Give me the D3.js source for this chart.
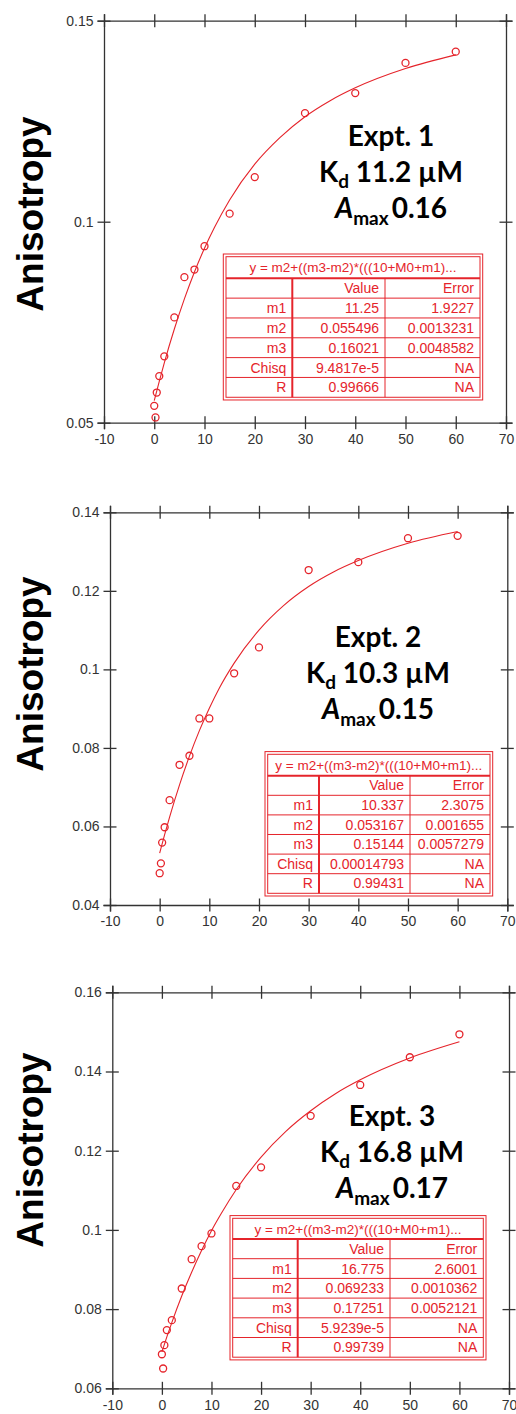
<!DOCTYPE html>
<html>
<head>
<meta charset="utf-8">
<script src="https://cdn.jsdelivr.net/npm/d3@7"></script>
<style>
  html, body { margin: 0; padding: 0; background: #fff; }
  svg { display: block; }
</style>
</head>
<body>
<script>
// ---------------- DATA ----------------
const xTicks = [-10, 0, 10, 20, 30, 40, 50, 60, 70];
const conc = [0, 0.25, 0.5, 1, 2, 4, 6, 8, 10, 15, 20, 30, 40, 50, 60];

const aniso1 = [0.0542, 0.0513, 0.0575, 0.0616, 0.0665, 0.0762, 0.0862, 0.0881, 0.0939, 0.1020, 0.1111, 0.1270, 0.1320, 0.1395, 0.1423];
const aniso2 = [0.0481, 0.0506, 0.0559, 0.0598, 0.0667, 0.0757, 0.0780, 0.0875, 0.0875, 0.0990, 0.1056, 0.1253, 0.1273, 0.1334, 0.1340];
const aniso3 = [0.0686, 0.0650, 0.0709, 0.0747, 0.0772, 0.0852, 0.0926, 0.0959, 0.0991, 0.1111, 0.1158, 0.1288, 0.1366, 0.1436, 0.1494];

const fitConc = [0, 1, 2, 4, 6, 8, 10, 12, 15, 20, 25, 30, 35, 40, 50, 60];
const fit1 = [0.0555, 0.0603, 0.0649, 0.0733, 0.0808, 0.0875, 0.0934, 0.0986, 0.1054, 0.1143, 0.1209, 0.1261, 0.1301, 0.1333, 0.1381, 0.1415];
const fit2 = [0.0532, 0.0579, 0.0624, 0.0706, 0.0779, 0.0844, 0.0901, 0.0952, 0.1016, 0.1100, 0.1163, 0.1211, 0.1248, 0.1277, 0.1321, 0.1351];
const fit3 = [0.0692, 0.0730, 0.0766, 0.0833, 0.0893, 0.0948, 0.0998, 0.1042, 0.1102, 0.1184, 0.1249, 0.1301, 0.1344, 0.1379, 0.1434, 0.1475];

const yDomain1 = [0.05, 0.15], yTicks1 = [0.05, 0.1, 0.15];
const yDomain2 = [0.04, 0.14], yTicks2 = [0.04, 0.06, 0.08, 0.1, 0.12, 0.14];
const yDomain3 = [0.06, 0.16], yTicks3 = [0.06, 0.08, 0.1, 0.12, 0.14, 0.16];

const yAxisTitle = "Anisotropy";
const exptNames = ["Expt. 1", "Expt. 2", "Expt. 3"];
const kdValues = ["11.2", "10.3", "16.8"];
const amaxValues = ["0.16", "0.15", "0.17"];

const tableTitle = "y = m2+((m3-m2)*(((10+M0+m1)...";
const tableHeader = ["", "Value", "Error"];
const paramNames = ["m1", "m2", "m3", "Chisq", "R"];
const paramValues1 = ["11.25", "0.055496", "0.16021", "9.4817e-5", "0.99666"];
const paramErrors1 = ["1.9227", "0.0013231", "0.0048582", "NA", "NA"];
const paramValues2 = ["10.337", "0.053167", "0.15144", "0.00014793", "0.99431"];
const paramErrors2 = ["2.3075", "0.001655", "0.0057279", "NA", "NA"];
const paramValues3 = ["16.775", "0.069233", "0.17251", "5.9239e-5", "0.99739"];
const paramErrors3 = ["2.6001", "0.0010362", "0.0052121", "NA", "NA"];

// ---------------- LAYOUT ----------------
const RED = "#e5242b";
const AXIS = "#333";
const panels = [
  { ys: aniso1, fit: fit1, yDomain: yDomain1, yTicks: yTicks1, vals: paramValues1, errs: paramErrors1,
    left: 104, right: 506, top: 20.7, bottom: 422.7, titleY: 214, annX: 391, annY: 146,
    tbl: { x: 226, y: 256.7, cols: [66.3, 92.7, 95], titleH: 21.6, rowH: 19.83 } },
  { ys: aniso2, fit: fit2, yDomain: yDomain2, yTicks: yTicks2, vals: paramValues2, errs: paramErrors2,
    left: 110, right: 507.3, top: 512.3, bottom: 905, titleY: 674, annX: 378, annY: 646.7,
    tbl: { x: 267.7, y: 754.3, cols: [51.3, 91, 80], titleH: 21.4, rowH: 19.6 } },
  { ys: aniso3, fit: fit3, yDomain: yDomain3, yTicks: yTicks3, vals: paramValues3, errs: paramErrors3,
    left: 112.3, right: 509, top: 992.3, bottom: 1388.3, titleY: 1150, annX: 392, annY: 1126,
    tbl: { x: 232.7, y: 1218.3, cols: [65, 92.3, 93.3], titleH: 20.7, rowH: 19.7 } }
];

const svg = d3.select("body").append("svg").attr("width", 516).attr("height", 1414);

panels.forEach((p, i) => {
  const g = svg.append("g");
  const x = d3.scaleLinear().domain([-10, 70]).range([p.left, p.right]);
  const y = d3.scaleLinear().domain(p.yDomain).range([p.bottom, p.top]);
  const fmt = d => String(+d.toFixed(2));
  const T = 6.5;

  function styleAxis(sel, orient) {
    sel.select(".domain").attr("stroke", AXIS).attr("stroke-width", 1.3);
    sel.selectAll(".tick line").attr("stroke", AXIS).attr("stroke-width", 1.3);
    if (orient === "h") sel.selectAll(".tick line").attr("y1", -T).attr("y2", T);
    else sel.selectAll(".tick line").attr("x1", -T).attr("x2", T);
    sel.selectAll(".tick text").attr("fill", "#333")
      .style("font-family", "'Liberation Sans', Arial, sans-serif").style("font-size", "14px");
  }

  const gb = g.append("g").attr("transform", `translate(0,${p.bottom})`)
    .call(d3.axisBottom(x).tickValues(xTicks).tickFormat(d => String(d)).tickSizeOuter(0).tickSize(T).tickPadding(5));
  styleAxis(gb, "h");
  const gt = g.append("g").attr("transform", `translate(0,${p.top})`)
    .call(d3.axisTop(x).tickValues(xTicks).tickFormat("").tickSizeOuter(0).tickSize(T));
  styleAxis(gt, "h");
  const gl = g.append("g").attr("transform", `translate(${p.left},0)`)
    .call(d3.axisLeft(y).tickValues(p.yTicks).tickFormat(fmt).tickSizeOuter(0).tickSize(T).tickPadding(4));
  styleAxis(gl, "v");
  const gr = g.append("g").attr("transform", `translate(${p.right},0)`)
    .call(d3.axisRight(y).tickValues(p.yTicks).tickFormat("").tickSizeOuter(0).tickSize(T));
  styleAxis(gr, "v");

  // Y axis title
  g.append("text")
    .attr("transform", `translate(43,${p.titleY}) rotate(-90)`)
    .attr("text-anchor", "middle")
    .style("font-family", "'Liberation Sans', Arial, sans-serif")
    .style("font-weight", "bold").style("font-size", "37px")
    .attr("fill", "#000").text(yAxisTitle);

  // fit curve
  const line = d3.line().x((d, k) => x(fitConc[k])).y(d => y(d)).curve(d3.curveMonotoneX);
  g.append("path").datum(p.fit).attr("d", line)
    .attr("fill", "none").attr("stroke", RED).attr("stroke-width", 1.1);

  // points
  g.selectAll("circle.pt").data(p.ys).join("circle")
    .attr("class", "pt")
    .attr("cx", (d, k) => x(conc[k])).attr("cy", d => y(d)).attr("r", 3.5)
    .attr("fill", "none").attr("stroke", RED).attr("stroke-width", 1.3);

  // annotation
  const annFont = "Lato, 'Open Sans', sans-serif";
  const ann = g.append("g").style("font-family", annFont).style("font-weight", "bold").attr("fill", "#000");
  ann.append("text").attr("x", p.annX).attr("y", p.annY).attr("text-anchor", "middle")
    .style("font-size", "28px").text(exptNames[i]);
  const kd = ann.append("text").attr("x", p.annX).attr("y", p.annY + 36.3).attr("text-anchor", "middle")
    .style("font-size", "28px");
  kd.append("tspan").text("K");
  kd.append("tspan").attr("dy", 6).style("font-size", "19px").text("d");
  kd.append("tspan").attr("dy", -6).text(" " + kdValues[i] + " µM");
  const am = ann.append("text").attr("x", p.annX).attr("y", p.annY + 72.3).attr("text-anchor", "middle")
    .style("font-size", "28px");
  am.append("tspan").style("font-style", "italic").text("A");
  am.append("tspan").attr("dy", 7).style("font-size", "19px").text("max");
  am.append("tspan").attr("dy", -7).attr("dx", 3).text(amaxValues[i]);

  // table
  const t = p.tbl;
  const W = d3.sum(t.cols);
  const H = t.titleH + 6 * t.rowH;
  const tg = g.append("g").attr("transform", `translate(${t.x},${t.y})`);
  tg.append("rect").attr("x", 0).attr("y", 0).attr("width", W).attr("height", H)
    .attr("fill", "#fff").attr("stroke", RED).attr("stroke-width", 1);
  tg.append("rect").attr("x", -2.7).attr("y", -2.7).attr("width", W + 5.4).attr("height", H + 5.4)
    .attr("fill", "none").attr("stroke", RED).attr("stroke-width", 1);
  for (let r = 0; r < 6; r++) {
    const yy = t.titleH + r * t.rowH;
    tg.append("line").attr("x1", 0).attr("x2", W).attr("y1", yy).attr("y2", yy)
      .attr("stroke", RED).attr("stroke-width", r === 0 ? 2 : 1);
  }
  const cx1 = t.cols[0], cx2 = t.cols[0] + t.cols[1];
  tg.append("line").attr("x1", cx1).attr("x2", cx1).attr("y1", t.titleH).attr("y2", H)
    .attr("stroke", RED).attr("stroke-width", 2);
  tg.append("line").attr("x1", cx2).attr("x2", cx2).attr("y1", t.titleH).attr("y2", H)
    .attr("stroke", RED).attr("stroke-width", 1);

  const tf = "'Liberation Sans', Arial, sans-serif";
  tg.append("text").attr("x", W / 2).attr("y", t.titleH / 2 + 5)
    .attr("text-anchor", "middle").attr("fill", RED)
    .style("font-family", tf).style("font-size", "13.5px").text(tableTitle);
  const rows = [tableHeader].concat(paramNames.map((n, k) => [n, p.vals[k], p.errs[k]]));
  const colRight = [cx1 - 6, cx2 - 6, W - 6];
  rows.forEach((row, r) => {
    row.forEach((cell, c) => {
      if (!cell) return;
      tg.append("text").attr("x", colRight[c]).attr("y", t.titleH + r * t.rowH + t.rowH / 2 + 5)
        .attr("text-anchor", "end").attr("fill", RED)
        .style("font-family", tf).style("font-size", "14px").text(cell);
    });
  });
});
</script>
</body>
</html>
